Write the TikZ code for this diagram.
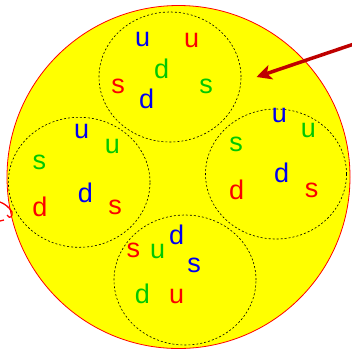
\documentclass[tikz,border=0pt]{standalone}
\usepackage{fontspec}
\setmainfont{Liberation Sans}
\usetikzlibrary{arrows.meta}
\definecolor{qblue}{RGB}{0,0,240}
\definecolor{qred}{RGB}{250,0,0}
\definecolor{qgreen}{RGB}{0,200,0}
\definecolor{qyellow}{RGB}{255,255,0}
\definecolor{arrred}{RGB}{190,0,0}
\tikzset{
  q/.style={inner sep=0pt, outer sep=0pt, font=\fontsize{27}{27}\selectfont},
  qb/.style={q, text=qblue},
  qr/.style={q, text=qred},
  qg/.style={q, text=qgreen},
  bag/.style={draw=black, line width=0.6pt, dash pattern=on 2pt off 2pt},
}
\begin{document}
\begin{tikzpicture}[x=1pt,y=-1pt]
\useasboundingbox (0,0) rectangle (352,349);
% big hadron
\filldraw[fill=qyellow, draw=red, line width=0.8pt] (178.5,177) circle (171.5pt);
% small red mark at left edge
\draw[red, line width=1.3pt] (0,202) .. controls (5,204) and (9,207) .. (12,212) .. controls (13,216) and (10,220) .. (7,215);
\draw[red, line width=1.3pt] (0,221) -- (4,220);
% clusters
\draw[bag] (170,77) ellipse (71pt and 65pt);
\draw[bag] (79.2,182.3) ellipse (70.8pt and 65pt);
\draw[bag] (276,174) ellipse (70.5pt and 65pt);
\draw[bag] (185,280) ellipse (71pt and 65pt);
% top cluster
\node[qb] (t1) at (142.7,39) {u};
\node[qr] (t2) at (191.7,40.7) {u};
\node[qg] (t3) at (161.7,69) {d};
\node[qr] (t4) at (118,86.7) {s};
\node[qg] (t5) at (206,86.7) {s};
\node[qb] (t6) at (146.7,99.3) {d};
% left cluster
\node[qb] (l1) at (81.7,131.7) {u};
\node[qg] (l2) at (112.3,146.7) {u};
\node[qg] (l3) at (39.3,162.3) {s};
\node[qb] (l4) at (85.3,192.7) {d};
\node[qr] (l5) at (40,206.7) {d};
\node[qr] (l6) at (115,207.3) {s};
% right cluster
\node[qb] (r1) at (279.3,115) {u};
\node[qg] (r2) at (308.3,130) {u};
\node[qg] (r3) at (236,144) {s};
\node[qb] (r4) at (281.7,173.3) {d};
\node[qr] (r5) at (236.7,190) {d};
\node[qr] (r6) at (311.7,190.7) {s};
% bottom cluster
\node[qb] (b1) at (176.7,235) {d};
\node[qr] (b2) at (133.3,250.7) {s};
\node[qg] (b3) at (157.7,251) {u};
\node[qb] (b4) at (194,265.7) {s};
\node[qg] (b5) at (142.3,294) {d};
\node[qr] (b6) at (176.7,296) {u};
% arrow
\coordinate (astart) at (354,44);
\coordinate (atip) at (256.5,77);
\draw[arrred, line width=3.5pt, -{Stealth[length=15pt,width=15pt,inset=4pt]}] (astart) -- (atip);
\end{tikzpicture}
\end{document}
